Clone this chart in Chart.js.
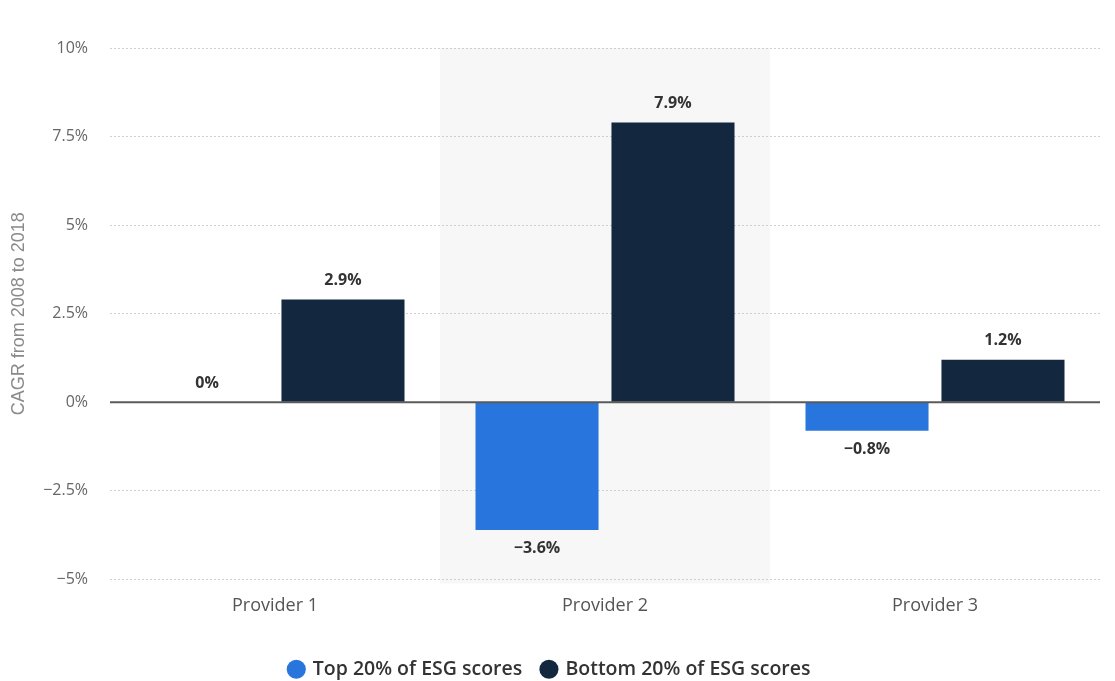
<!DOCTYPE html>
<html>
<head>
<meta charset="utf-8">
<script src="https://cdn.jsdelivr.net/npm/chart.js@4.4.1/dist/chart.umd.min.js"></script>
<style>
  html, body { margin: 0; padding: 0; background: #ffffff; }
  #wrap { width: 1115px; height: 681px; position: relative; }
</style>
</head>
<body>
<div id="wrap"><canvas id="c" width="1115" height="681"></canvas></div>
<script>
const categories = ['Provider 1', 'Provider 2', 'Provider 3'];
const seriesNames = ['Top 20% of ESG scores', 'Bottom 20% of ESG scores'];
const topValues = [0, -3.6, -0.8];
const bottomValues = [2.9, 7.9, 1.2];
const topLabels = ['0%', '\u22123.6%', '\u22120.8%'];
const bottomLabels = ['2.9%', '7.9%', '1.2%'];
const yTickValues = [10, 7.5, 5, 2.5, 0, -2.5, -5];
const yTickLabels = ['10%', '7.5%', '5%', '2.5%', '0%', '\u22122.5%', '\u22125%'];
const highlightedCategory = 1;

const FONT = "'Open Sans', 'Liberation Sans', sans-serif";

const bandPlugin = {
  id: 'band',
  beforeDraw(chart) {
    const { ctx, chartArea, scales } = chart;
    const x = scales.x;
    const w = x.width / categories.length;
    const cx = x.getPixelForValue(highlightedCategory);
    ctx.save();
    ctx.fillStyle = '#f7f7f7';
    ctx.fillRect(cx - w / 2, chartArea.top, w, chartArea.bottom - chartArea.top + 4);
    ctx.restore();
  }
};

const zeroLinePlugin = {
  id: 'zeroLine',
  afterDatasetsDraw(chart) {
    const { ctx, chartArea, scales } = chart;
    const y = scales.y.getPixelForValue(0);
    ctx.save();
    ctx.strokeStyle = '#5a5a5a';
    ctx.lineWidth = 2;
    ctx.beginPath();
    ctx.moveTo(chartArea.left, y);
    ctx.lineTo(chartArea.right, y);
    ctx.stroke();
    ctx.restore();
  }
};

const labelPlugin = {
  id: 'valueLabels',
  afterDatasetsDraw(chart) {
    const { ctx } = chart;
    const allLabels = [topLabels, bottomLabels];
    ctx.save();
    ctx.font = "bold 16px " + FONT;
    ctx.fillStyle = '#333333';
    ctx.textAlign = 'center';
    ctx.textBaseline = 'middle';
    chart.data.datasets.forEach((ds, di) => {
      const meta = chart.getDatasetMeta(di);
      meta.data.forEach((el, i) => {
        const v = ds.data[i];
        const y = v >= 0 ? el.y - 19 : el.y + 19;
        ctx.fillText(allLabels[di][i], el.x, y);
      });
    });
    ctx.restore();
  }
};

new Chart(document.getElementById('c'), {
  type: 'bar',
  data: {
    labels: categories,
    datasets: [
      { label: seriesNames[0], data: topValues, backgroundColor: '#2876dd', borderWidth: 0 },
      { label: seriesNames[1], data: bottomValues, backgroundColor: '#13273f', borderWidth: 0 }
    ]
  },
  options: {
    responsive: false,
    animation: false,
    devicePixelRatio: 1,
    categoryPercentage: 0.824,
    barPercentage: 0.905,
    layout: { padding: { top: 48, right: 15, bottom: -8, left: 0 } },
    scales: {
      x: {
        grid: { display: false, drawTicks: false },
        border: { display: false },
        ticks: { color: '#555555', font: { family: FONT, size: 18 }, padding: 16 },
        afterFit(scale) { scale.height = 60; }
      },
      y: {
        min: -5, max: 10,
        afterBuildTicks(scale) { scale.ticks = yTickValues.map(v => ({ value: v })); },
        grid: { color: '#cfcfcf', drawTicks: false, lineWidth: 1 },
        border: { display: false, dash: [2, 2] },
        ticks: {
          color: '#666666',
          font: { family: FONT, size: 16 },
          padding: 22,
          callback(value) {
            const idx = yTickValues.indexOf(value);
            return idx >= 0 ? yTickLabels[idx] : '';
          }
        },
        title: {
          display: true,
          text: 'CAGR from 2008 to 2018',
          color: '#8a8a8a',
          font: { family: "'Liberation Sans', Arial, sans-serif", size: 18 },
          padding: { top: 8, bottom: 0 }
        },
        afterFit(scale) { scale.width = 110; }
      }
    },
    plugins: {
      legend: {
        position: 'bottom',
        labels: {
          usePointStyle: true,
          pointStyle: 'circle',
          boxWidth: 13.5,
          boxHeight: 13.5,
          padding: 20,
          color: '#333333',
          font: { family: FONT, size: 19.5, weight: '600' }
        }
      },
      tooltip: { enabled: false }
    }
  },
  plugins: [bandPlugin, zeroLinePlugin, labelPlugin]
});
</script>
</body>
</html>
